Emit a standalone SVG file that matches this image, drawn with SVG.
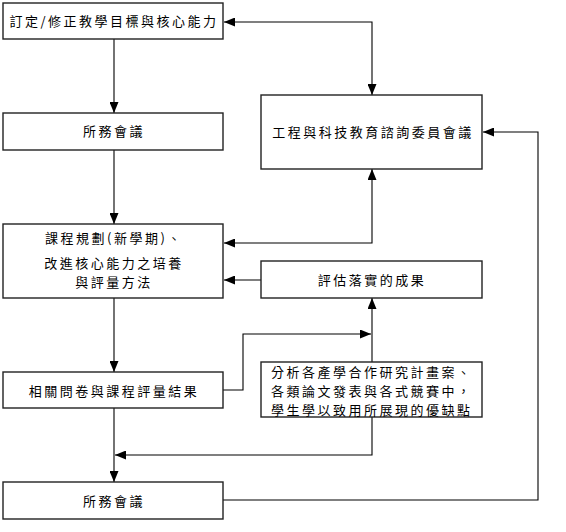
<svg xmlns="http://www.w3.org/2000/svg" width="566" height="532" viewBox="0 0 566 532">
<style>
.box{fill:#fff;stroke:#222;stroke-width:1.4}
.t{font-family:"Noto Sans CJK TC","Noto Sans CJK SC",sans-serif;font-size:13px;letter-spacing:2.5px;fill:#000}
.m{text-anchor:middle}
.c{fill:none;stroke:#000;stroke-width:1.1}
</style>
<defs>
<marker id="ah" markerUnits="userSpaceOnUse" markerWidth="11" markerHeight="9" viewBox="0 0 11 9" refX="11" refY="4.5" orient="auto-start-reverse">
<path d="M0,0 L11,4.5 L0,9 z" fill="#000"/>
</marker>
</defs>
<rect width="566" height="532" fill="#fff"/>
<g id="connectors">
<path class="c" d="M114,39 V113" marker-end="url(#ah)"/>
<path class="c" d="M114,150 V224" marker-end="url(#ah)"/>
<path class="c" d="M224,22 H372 V95" marker-start="url(#ah)" marker-end="url(#ah)"/>
<path class="c" d="M224,243 H372 V169" marker-start="url(#ah)" marker-end="url(#ah)"/>
<path class="c" d="M261,280 H224" marker-end="url(#ah)"/>
<path class="c" d="M114,298 V372" marker-end="url(#ah)"/>
<path class="c" d="M223,390 H243 V334 H371" marker-end="url(#ah)"/>
<path class="c" d="M372,362 V298" marker-end="url(#ah)"/>
<path class="c" d="M372,417 V455 H115" marker-end="url(#ah)"/>
<path class="c" d="M114,408 V482" marker-end="url(#ah)"/>
<path class="c" d="M223,500 H538 V132 H483" marker-end="url(#ah)"/>
</g>
<g id="n1">
<rect class="box" x="3" y="3" width="220" height="36"/>
<text class="t m" x="114" y="26">訂定/修正教學目標與核心能力</text>
</g>
<g id="n2">
<rect class="box" x="3" y="113" width="220" height="37"/>
<text class="t m" x="114" y="136">所務會議</text>
</g>
<g id="n3">
<rect class="box" x="261" y="95" width="221" height="74"/>
<text class="t m" x="373" y="137">工程與科技教育諮詢委員會議</text>
</g>
<g id="n4">
<rect class="box" x="3" y="224" width="220" height="74"/>
<text class="t m" x="114" y="243">課程規劃(新學期)、</text>
<text class="t m" x="114" y="268">改進核心能力之培養</text>
<text class="t m" x="114" y="287">與評量方法</text>
</g>
<g id="n5">
<rect class="box" x="261" y="261" width="221" height="37"/>
<text class="t m" x="372" y="285">評估落實的成果</text>
</g>
<g id="n6">
<rect class="box" x="3" y="372" width="220" height="36"/>
<text class="t m" x="114" y="396">相關問卷與課程評量結果</text>
</g>
<g id="n7">
<rect class="box" x="261" y="362" width="221" height="55"/>
<text class="t" x="271" y="377">分析各產學合作研究計畫案、</text>
<text class="t" x="271" y="396">各類論文發表與各式競賽中，</text>
<text class="t" x="271" y="415">學生學以致用所展現的優缺點</text>
</g>
<g id="n8">
<rect class="box" x="3" y="482" width="220" height="37"/>
<text class="t m" x="114" y="506">所務會議</text>
</g>
</svg>
